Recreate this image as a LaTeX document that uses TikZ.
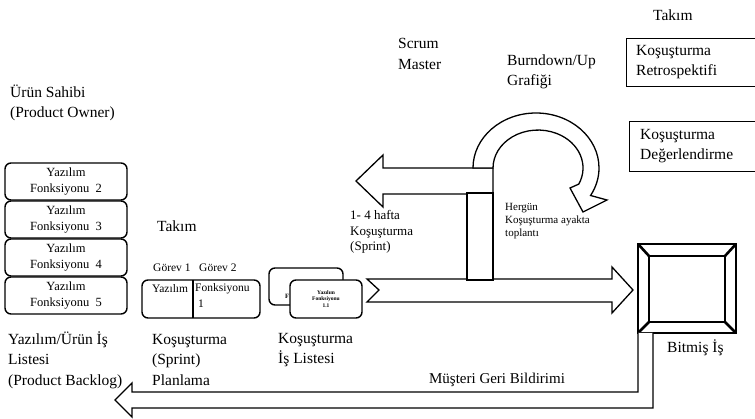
\documentclass[tikz,border=0pt]{standalone}
\usepackage{fontspec}
\setmainfont{Liberation Serif}
\begin{document}
\begin{tikzpicture}[x=1pt,y=-1pt, line join=miter,
  lbl/.style={font=\fontsize{15.5}{20.5}\selectfont, align=left, inner sep=0pt, anchor=west},
  smlbl/.style={font=\fontsize{13}{15.5}\selectfont, align=left, inner sep=0pt, anchor=west},
  tinylbl/.style={font=\fontsize{11}{13}\selectfont, align=left, inner sep=0pt, anchor=west},
  blbox/.style={draw, line width=1.4pt, rounded corners=6pt, fill=white, minimum width=122pt, minimum height=37pt, inner sep=0pt, align=center, font=\fontsize{12.5}{16}\selectfont},
  card/.style={draw, line width=1.4pt, rounded corners=6pt, fill=white, inner sep=0pt, align=center},
  sqbox/.style={draw, line width=0.9pt, fill=white},
  barrow/.style={draw, line width=1.3pt, fill=white},
  thickln/.style={line width=2.6pt}]
\useasboundingbox (0,0) rectangle (755,419);

% top labels
\node[lbl] (po) at (10,103) {Ürün Sahibi\\(Product Owner)};
\node[lbl] (sm) at (398,54) {Scrum\\Master};
\node[lbl] (bd) at (507,72) {Burndown/Up\\Grafiği};
\node[lbl] (tk2) at (653,15) {Takım};

% right boxes
\draw[sqbox] (626,38) rectangle (760,86);
\node[lbl] (retro) at (636,62) {Koşuşturma\\Retrospektifi};
\draw[sqbox] (629,121) rectangle (760,171);
\node[lbl] (deg) at (640,146) {Koşuşturma\\Değerlendirme};

% backlog stack
\node[blbox] (b2) at (66,181.5) {Yazılım\\Fonksiyonu\ \ 2};
\node[blbox] (b3) at (66,219.5) {Yazılım\\Fonksiyonu\ \ 3};
\node[blbox] (b4) at (66,257.5) {Yazılım\\Fonksiyonu\ \ 4};
\node[blbox] (b5) at (66,295.5) {Yazılım\\Fonksiyonu\ \ 5};

% planning
\node[lbl] (tk1) at (157,226) {Takım};
\node[font=\fontsize{11.5}{14}\selectfont, inner sep=0pt, anchor=west] (g1) at (153,268) {Görev 1};
\node[font=\fontsize{11.5}{14}\selectfont, inner sep=0pt, anchor=west] (g2) at (199,268) {Görev 2};
\node[card, minimum width=118pt, minimum height=38pt] (plan) at (201,299) {};
\draw[line width=1.3pt] (193,280) -- (193,318);
\node[font=\fontsize{11.5}{15}\selectfont, inner sep=0pt, anchor=west] (py) at (152,289) {Yazılım};
\node[font=\fontsize{11.5}{15}\selectfont, inner sep=0pt, anchor=west] (pf) at (195,289) {Fonksiyonu};
\node[font=\fontsize{11.5}{15}\selectfont, inner sep=0pt, anchor=west] (p1) at (198,304) {1};

% sprint backlog cards
\node[card, minimum width=74pt, minimum height=37pt] (c1) at (306,286.5) {};
\node[font=\fontsize{6.5}{8}\selectfont\bfseries, inner sep=0pt] (cf) at (287,296) {F};
\node[card, minimum width=72pt, minimum height=38pt, font=\fontsize{5.5}{6.5}\selectfont\bfseries] (c2) at (326,299) {Yazılım\\Fonksiyonu\\1.1};

% left arrow (sprint)
\draw[barrow] (493,168) -- (383,168) -- (383,155) -- (356,181) -- (383,207) -- (383,194) -- (493,194) -- cycle;
\node[smlbl] (hafta) at (350,232) {1- 4 hafta\\Koşuşturma\\(Sprint)};

% right arrow
\draw[barrow] (367,279) -- (612,279) -- (612,267) -- (633,290) -- (612,313) -- (612,302) -- (367,302) -- (379,290) -- cycle;

% scrum bar
\draw[barrow] (467,193) rectangle (493,280);
\draw[thickln] (467,193) -- (493,193);
\draw[line width=2pt] (467,280) -- (493,280);

% curved daily arrow
\draw[barrow] (473,168) arc[start angle=180, end angle=390, x radius=63, y radius=55]
  -- (607,200) -- (583,212) -- (570,188) -- (578.8,184.1)
  arc[start angle=385, end angle=180, x radius=45, y radius=38] -- cycle;
\node[tinylbl] (herg) at (505,221) {Hergün\\Koşuşturma ayakta\\toplantı};

% done box
\draw[thickln, fill=white] (638,244) rectangle (736,333);
\draw[thickln] (649,256) rectangle (725,322);
\draw[thickln] (638,244) -- (649,256) (736,244) -- (725,256) (638,333) -- (649,322) (736,333) -- (725,322);
\node[lbl] (bitmis) at (667,348) {Bitmiş İş};

% feedback arrow
\draw[barrow] (638,333) -- (638,392) -- (132,392) -- (132,383) -- (115,400) -- (132,417) -- (132,408) -- (653,408) -- (653,333);
\node[lbl, anchor=center, font=\fontsize{15}{20}\selectfont] (mus) at (497,380) {Müşteri Geri Bildirimi};

% bottom labels
\node[lbl] (pbl) at (8,360) {Yazılım/Ürün İş\\Listesi\\(Product Backlog)};
\node[lbl] (spl) at (152,360) {Koşuşturma\\(Sprint)\\Planlama};
\node[lbl] (sbl) at (278,350) {Koşuşturma\\İş Listesi};
\end{tikzpicture}
\end{document}
